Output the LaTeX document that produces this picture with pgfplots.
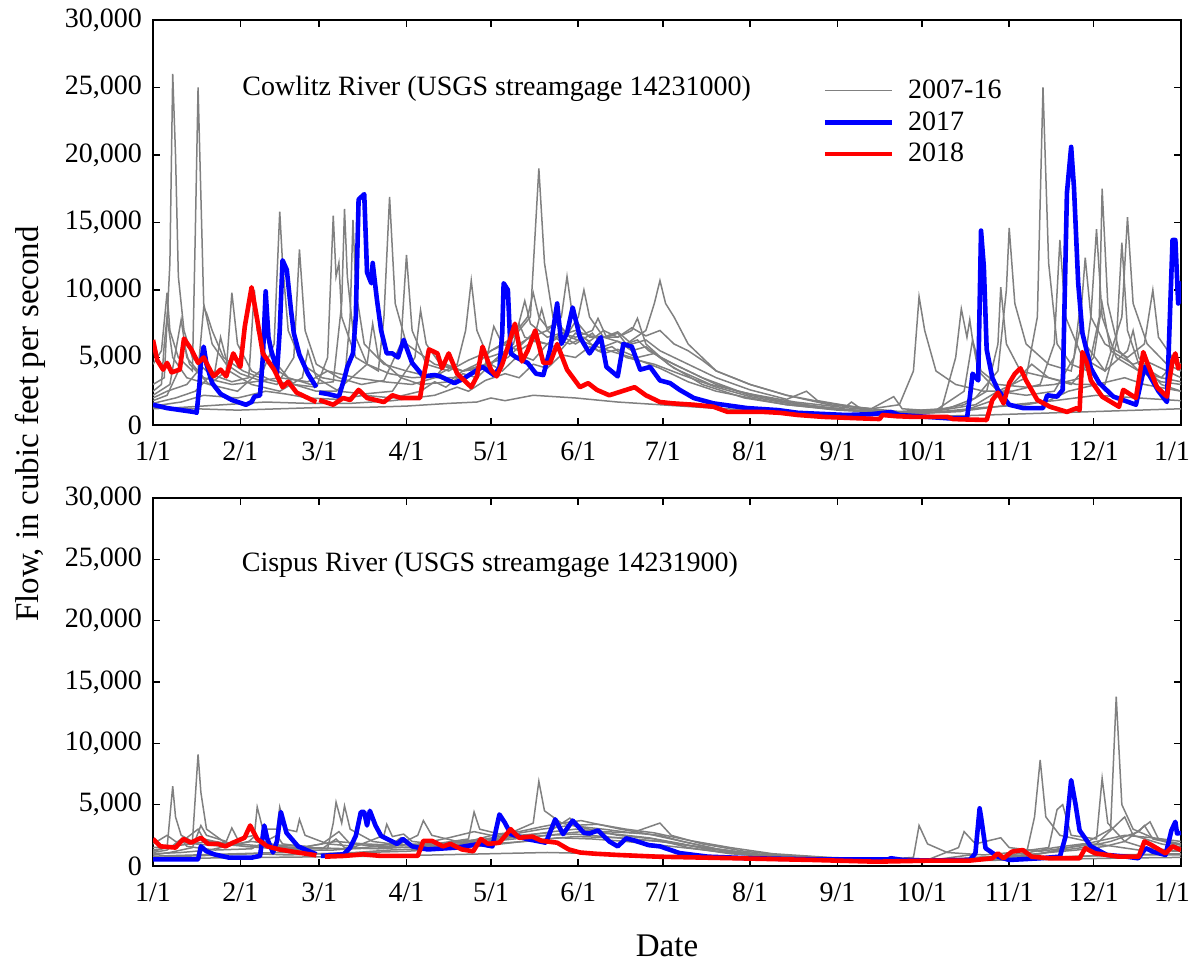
\documentclass[border=0pt]{standalone}
\usepackage{pgfplots}
\pgfplotsset{compat=1.18}
\usepackage{fontspec}
\setmainfont{Liberation Serif}

\definecolor{grayc}{RGB}{128,128,128}

\pgfplotsset{
  panel/.style={
    scale only axis, width=514pt,
    xmin=0, xmax=365, ymin=0, ymax=30000,
    xtick={0,31,59,90,120,151,181,212,243,273,304,334,365},
    xticklabels={1/1,2/1,3/1,4/1,5/1,6/1,7/1,8/1,9/1,10/1,11/1,12/1,{\hspace*{-9pt}1/1}},
    ytick={0,5000,10000,15000,20000,25000,30000},
    scaled y ticks=false,
    /pgf/number format/1000 sep={,},
    /pgf/number format/assume math mode=true,
    tick align=inside, tick pos=both,
    major tick length=3.5pt,
    axis line style={line width=0.8pt},
    every tick/.style={black, line width=0.8pt},
    tick label style={font=\fontsize{14}{16}\selectfont},
    xticklabel style={yshift=-5pt},
    yticklabel style={xshift=-2pt},
    unbounded coords=jump,
  },
  gr/.style={color=grayc, line width=0.75pt, forget plot},
  yb/.style={color=blue, line width=2.3pt, line join=round},
  yr/.style={color=red, line width=2.3pt, line join=round},
}

\begin{document}
\begin{tikzpicture}
\path[use as bounding box] (0pt,0pt) rectangle (595.5pt,481pt);

% ---------------- Cowlitz River ----------------
\begin{axis}[panel, name=top, at={(76.5pt,268.5pt)}, anchor=south west, height=202.5pt,
  legend style={draw=none, fill=none, at={(0.645,0.873)}, anchor=north west,
    font=\fontsize{14}{16}\selectfont, row sep=1pt, cells={anchor=west},
    /tikz/every odd column/.append style={column sep=5pt}},
  legend image code/.code={\draw[#1] (0cm,0cm) -- (1.18cm,0cm);},
]
\addplot[gr] coordinates {(0,4500)(3,5500)(5,9800)(6,7000)(9,5000)(14,4000)(15,14000)(16,25000)(17,17000)(18,9000)(21,6000)(26,4500)(31,3800)(38,3300)(44,3000)(50,5000)(52,13000)(54,7000)(58,4500)(66,3500)(74,3000)(82,3300)(88,6000)(90,12600)(92,7000)(97,4500)(105,4000)(112,4800)(120,5500)(128,6500)(134,8000)(137,19000)(139,12000)(142,8000)(148,6500)(155,6000)(162,5500)(170,5000)(180,4200)(190,3200)(200,2500)(212,2000)(225,1500)(240,1200)(255,1000)(268,950)(280,1100)(292,1500)(300,2500)(310,3500)(314,8000)(316,25000)(318,12000)(321,6000)(326,4500)(332,4000)(336,8000)(337,17500)(339,9000)(343,5500)(350,4000)(358,3200)(365,3000)};
\addplot[gr] coordinates {(0,3000)(4,3500)(6,12000)(7,26000)(8,20000)(9,11000)(11,7000)(14,5000)(20,3800)(28,3200)(34,3500)(36,10000)(37,7000)(41,4500)(48,3500)(56,3000)(64,3200)(67,9000)(68,16000)(69,11000)(71,7000)(76,4500)(84,3800)(92,3500)(100,3600)(108,4500)(111,7000)(113,10700)(115,7000)(119,5000)(126,5500)(134,6500)(140,7000)(145,8000)(147,11000)(149,8000)(155,6500)(165,6500)(170,7000)(172,7900)(175,6000)(183,4500)(195,3000)(210,2000)(225,1500)(243,1100)(260,900)(275,1000)(288,1500)(296,2500)(300,6000)(301,10200)(303,6000)(308,4000)(318,3500)(328,3000)(338,3000)(342,6000)(344,13500)(346,7000)(350,4500)(358,3500)(365,3200)};
\addplot[gr] coordinates {(0,2500)(3,3000)(4,6000)(5,8000)(7,5000)(12,3500)(20,3000)(26,4000)(28,9800)(30,6000)(35,4000)(42,3300)(50,3000)(58,2800)(62,5000)(64,15500)(65,11000)(66,12000)(67,8000)(72,5000)(80,4000)(82,8000)(84,16900)(86,9000)(90,6000)(100,4500)(110,4000)(120,4500)(128,6000)(132,9200)(134,7500)(140,6500)(148,7000)(151,8000)(153,10000)(155,8000)(160,6500)(168,6000)(175,7000)(178,9000)(180,10700)(182,9000)(185,8000)(190,6000)(200,4000)(212,3000)(225,2200)(240,1500)(255,1200)(265,1500)(270,4000)(272,9500)(274,7000)(278,4000)(285,3000)(295,2500)(305,2500)(315,3000)(320,6000)(322,13700)(324,8000)(330,5000)(338,4000)(344,8000)(346,15400)(348,9000)(353,6000)(360,4500)(365,4000)};
\addplot[gr] coordinates {(0,2000)(5,2500)(12,3000)(16,4000)(18,8700)(19,8300)(21,7000)(25,5000)(32,4000)(38,3500)(43,6000)(45,15800)(46,12000)(48,7000)(53,4500)(60,3500)(68,3200)(70,8000)(71,15200)(72,10000)(75,6000)(82,4500)(90,4000)(100,3500)(110,3500)(118,4500)(121,7300)(124,6000)(130,5500)(135,6200)(140,6000)(145,6800)(150,6500)(156,7000)(158,7900)(161,6500)(165,6800)(168,6000)(172,6300)(176,5500)(185,4500)(195,3500)(208,2500)(222,1800)(238,1300)(255,1000)(270,900)(282,1200)(292,2000)(300,4000)(303,10000)(304,14600)(306,9000)(310,6000)(318,4500)(326,4000)(329,7000)(331,12400)(333,8000)(338,6000)(346,5000)(352,6000)(355,10000)(357,6500)(362,5000)(365,4500)};
\addplot[gr] coordinates {(0,1800)(5,2200)(9,4000)(11,6000)(13,4500)(20,3000)(30,2500)(38,4000)(40,7000)(42,5000)(50,3000)(58,2500)(65,2500)(76,4500)(78,7500)(80,5000)(88,3500)(95,3000)(105,3200)(110,4000)(115,4500)(120,5500)(125,6000)(130,7200)(133,8000)(135,9800)(137,8000)(140,7200)(143,7500)(147,6800)(150,7000)(155,6600)(160,6500)(165,6900)(170,6000)(175,6300)(180,5500)(190,4500)(200,3500)(212,2600)(225,1900)(232,2500)(236,1800)(250,1300)(265,1000)(280,1200)(285,5000)(287,8600)(289,6500)(290,7800)(291,6300)(294,4000)(300,3000)(310,2800)(320,3000)(330,3500)(333,8000)(335,14500)(337,8000)(342,5000)(350,4000)(358,3500)(363,4700)(365,4000)};
\addplot[gr] coordinates {(0,1600)(8,2000)(15,2500)(22,4000)(24,6500)(27,4000)(35,3000)(45,2500)(53,3500)(55,5500)(58,3500)(66,2500)(75,2300)(85,2500)(93,5000)(95,8500)(97,6000)(102,4500)(110,4000)(118,4500)(126,5000)(132,6200)(136,7000)(138,8600)(140,7000)(144,6300)(148,6000)(153,6500)(158,5500)(163,5800)(168,5000)(178,4500)(188,3700)(200,2800)(212,2100)(228,1500)(245,1200)(248,1700)(252,1100)(265,900)(278,1100)(288,2500)(291,6300)(293,4000)(300,2500)(310,2200)(320,2500)(327,5000)(329,8500)(331,6000)(338,4000)(346,5500)(348,7000)(350,5000)(358,3000)(365,2500)};
\addplot[gr] coordinates {(0,1400)(10,1700)(18,2200)(30,2000)(40,2500)(47,2300)(55,2000)(65,1900)(75,2200)(85,2000)(95,2500)(100,3200)(104,2800)(110,3800)(115,3500)(120,4500)(124,4000)(130,5200)(135,4800)(140,6000)(145,5600)(150,6800)(155,6200)(160,7000)(165,6500)(170,7200)(175,6600)(180,7000)(185,6000)(190,5500)(195,4800)(200,4000)(212,3000)(225,2200)(240,1600)(255,1200)(263,2100)(266,1200)(280,1000)(295,1300)(310,1500)(318,1800)(325,2500)(335,3000)(345,3500)(352,3000)(365,2500)};
\addplot[gr] coordinates {(0,1200)(10,1300)(25,1500)(40,1700)(55,1600)(70,1600)(85,1800)(100,2200)(108,2800)(112,2500)(118,3300)(125,3800)(130,3500)(135,4500)(140,4200)(145,5200)(150,5000)(155,5800)(160,5300)(165,5600)(172,5000)(178,5300)(185,4200)(198,3000)(212,2300)(228,1700)(245,1300)(260,1000)(275,900)(290,1100)(305,1500)(320,1800)(335,2200)(350,2000)(365,1800)};
\addplot[gr] coordinates {(0,1300)(15,1200)(30,1100)(45,1200)(60,1300)(75,1300)(90,1400)(105,1600)(115,1700)(120,2000)(125,1800)(135,2200)(150,2000)(165,1700)(180,1500)(195,1300)(212,1100)(230,900)(245,800)(260,700)(275,650)(290,700)(305,800)(320,900)(335,1000)(350,1100)(365,1200)};
\addplot[gr] coordinates {(0,2200)(6,3000)(10,7800)(12,5000)(18,3500)(28,3000)(36,3200)(45,3500)(55,3200)(62,4000)(72,3500)(82,3200)(92,3000)(100,3500)(104,4500)(110,4000)(118,4200)(125,5500)(130,7500)(132,6500)(140,6000)(145,6600)(150,6000)(156,6800)(160,5800)(165,6200)(170,5500)(175,5800)(180,5000)(190,4000)(200,3000)(212,2200)(228,1600)(243,1200)(258,950)(272,850)(287,1000)(298,1800)(305,3000)(312,4500)(318,3500)(326,3000)(334,5000)(337,9000)(340,5500)(348,4500)(352,4800)(360,4000)(365,3500)};
\addlegendimage{color=grayc, line width=0.75pt}
% 2017
\addplot[yb] coordinates {(0,1500)(5,1250)(10,1100)(15,950)(15.5,900)(16.5,3000)(17,4600)(18,5800)(19,4500)(21,3100)(24,2300)(28,1850)(33,1500)(35,1700)(36,2100)(38,2200)(39,5000)(40,9900)(41,6500)(42,5500)(43,4800)(44,3800)(45,7000)(46,12200)(47.5,11500)(49,8500)(50,6800)(52,5200)(55,3800)(58,2800)(58.4,nan)(59,2400)(62,2300)(66,2100)(68,3500)(69,4300)(71,5300)(72,8000)(73,16700)(75,17100)(76,11300)(77.5,10500)(78,12000)(79.5,9300)(81,7000)(83,5300)(85,5300)(87,5000)(89,6300)(92,4600)(96,3600)(100,3700)(102,3600)(107,3100)(110,3400)(113,3800)(117,4300)(121,3700)(123,4200)(124,6800)(124.5,10500)(126,10000)(127,5300)(129,5000)(133,4600)(136,3800)(138.6,3700)(141,5600)(143.5,9000)(145,6000)(147,6800)(149,8700)(151.6,6500)(155,5300)(159,6500)(161,4300)(165,3600)(167,6000)(170,5800)(173,4100)(176.5,4300)(180,3300)(183.6,3100)(187,2600)(192,2000)(199,1600)(211,1250)(222,1100)(229,900)(246,740)(255,800)(262,960)(265,740)(275,600)(282,500)(289,500)(290,2000)(291,3800)(293,3300)(294,14400)(295,11700)(296,5600)(298,3500)(300,2600)(304,1500)(309,1250)(316,1250)(317.5,2200)(321,2100)(323,2600)(324.5,17200)(326,20600)(327,17600)(328.5,10500)(330,6800)(333,4200)(336,3100)(341,2100)(345,1800)(349,1500)(352,4300)(354,3600)(357,2500)(360,1700)(362,13700)(363,13700)(364,9000)(364.5,10500)(365,9000)};
% 2018
\addplot[yr] coordinates {(0,6300)(1.5,4800)(3.6,4100)(5,4600)(6.6,3900)(9.5,4100)(11,6400)(13.6,5600)(16,4600)(18,5000)(19.7,4300)(21.5,3600)(24,4100)(26,3600)(28.5,5300)(31,4300)(32.6,7300)(35,10200)(37,7800)(39,5300)(43,4100)(46,2800)(48,3200)(51,2400)(55,2000)(58,1700)(58.4,nan)(59,1850)(64,1500)(67.5,2000)(70,1850)(73,2600)(76,2000)(82,1700)(85,2200)(88,2000)(92,2000)(94.8,2000)(96,3500)(98,5600)(101,5300)(102.6,4200)(105,5300)(108,3800)(113,2800)(115,3600)(117,5800)(120,4100)(122,3600)(124,4500)(126,5800)(128.5,7500)(131,4700)(133,5500)(135.7,7000)(138.6,4600)(141,4600)(143.5,6000)(147,4100)(151.6,2800)(154.5,3100)(157.6,2600)(162,2200)(165,2400)(168,2600)(171,2800)(175,2200)(180,1700)(184.6,1600)(192,1500)(199,1350)(204,970)(216.7,970)(222.6,900)(229,740)(238,600)(250,500)(258,440)(259,740)(264,650)(270,600)(282,600)(284,440)(290,400)(296,370)(298,1850)(300,2400)(302,1600)(304,3100)(306,3800)(308,4200)(310,3300)(314,1850)(318.5,1350)(324.5,970)(328,1250)(329,1100)(330,5400)(331.6,4600)(333,3300)(337,2100)(343,1350)(344.5,2600)(346,2400)(349,2000)(351.6,5400)(353,4600)(356.5,2800)(360,2100)(362,4800)(363,5300)(364,4200)(365,4500)};
\legend{2007-16,2017,2018}
\node[anchor=base west, inner sep=0pt, font=\fontsize{14}{16}\selectfont] at (axis cs:31.6,24440) {Cowlitz River (USGS streamgage 14231000)};
\end{axis}

% ---------------- Cispus River ----------------
\begin{axis}[panel, name=bot, at={(76.5pt,48pt)}, anchor=south west, height=184pt]
\addplot[gr] coordinates {(0,1200)(5,1500)(7,6500)(8,4000)(10,2500)(14,2000)(16,9100)(17,6000)(19,3000)(25,2000)(32,1600)(40,1500)(50,1500)(62,1400)(64,3500)(65,5200)(67,3500)(68,4900)(70,3000)(78,2000)(88,1700)(100,1800)(112,2200)(114,4400)(116,3000)(125,2500)(135,3500)(137,6900)(139,4500)(145,3500)(155,3000)(165,2500)(178,2200)(190,1500)(205,1000)(220,750)(240,600)(260,500)(280,550)(295,700)(310,900)(313,4000)(315,8650)(317,4000)(322,2500)(332,2000)(340,3000)(342,13800)(344,5000)(348,3000)(356,2200)(365,1800)};
\addplot[gr] coordinates {(0,900)(6,1100)(14,1500)(17,3300)(19,2500)(26,2000)(28,3100)(30,2200)(36,2500)(37,4800)(39,3000)(44,3000)(45,4800)(47,3000)(51,2800)(52,3800)(54,2500)(62,1800)(72,1600)(82,2500)(83,3400)(85,2400)(89,2600)(92,2000)(100,1800)(110,1900)(120,2200)(130,2500)(140,2700)(148,3900)(152,3200)(160,3000)(170,2700)(180,3500)(184,2500)(195,1800)(210,1200)(225,850)(242,650)(260,550)(270,700)(272,3300)(275,1800)(282,1100)(295,900)(305,1100)(318,1500)(321,4600)(323,5000)(326,2500)(335,2200)(337,7150)(339,3500)(345,2000)(354,3600)(357,2200)(365,1500)};
\addplot[gr] coordinates {(0,1500)(10,1700)(20,2000)(30,1800)(40,1600)(55,1500)(70,1400)(85,1500)(94,2500)(96,3700)(99,2500)(108,2000)(118,2200)(128,2600)(138,3000)(148,3300)(158,3400)(168,3000)(178,2700)(190,2100)(205,1500)(220,1000)(240,700)(258,550)(275,500)(286,1500)(288,2800)(292,1800)(301,2300)(304,1500)(315,1200)(325,1500)(335,1800)(345,4000)(348,2500)(358,1800)(365,1500)};
\addplot[gr] coordinates {(0,800)(15,900)(30,1000)(45,1100)(60,1000)(75,1100)(90,1200)(105,1400)(120,1700)(135,2100)(150,2400)(165,2300)(180,2000)(195,1500)(210,1000)(230,700)(250,550)(270,450)(290,500)(310,650)(330,800)(350,900)(365,900)};
\addplot[gr] coordinates {(0,600)(20,650)(40,700)(60,750)(80,800)(100,900)(120,1000)(140,1100)(160,1000)(180,850)(200,700)(220,550)(245,450)(270,400)(295,450)(320,550)(345,650)(365,700)};
\addplot[gr] coordinates {(0,1100)(5,1300)(10,2200)(12,1600)(22,1300)(35,1400)(44,2500)(46,1800)(60,1400)(65,2200)(68,1500)(80,1400)(95,1600)(112,2000)(122,2600)(130,2800)(138,3200)(145,3500)(152,3700)(158,3400)(166,3000)(176,2600)(186,2100)(200,1400)(215,900)(235,650)(255,520)(275,480)(295,600)(310,800)(320,1200)(330,1500)(340,2000)(350,2800)(352,3300)(355,2200)(365,1700)};
\addplot[gr] coordinates {(0,1300)(8,1600)(16,3000)(18,2200)(28,1700)(38,1500)(50,1400)(60,1800)(66,2800)(70,1800)(80,1600)(92,1500)(105,1700)(118,2000)(130,2400)(142,2800)(150,3000)(160,2800)(170,2700)(180,2500)(188,2000)(200,1400)(215,950)(232,700)(250,560)(268,480)(285,560)(300,800)(311,1100)(320,1500)(330,1800)(338,1700)(350,1300)(365,1200)};
\addplot[gr] coordinates {(0,1000)(10,1100)(20,1300)(34,2000)(36,2400)(40,1600)(52,1300)(64,1300)(75,1500)(85,1800)(88,2300)(92,1700)(104,1600)(116,1900)(128,2200)(140,2500)(152,2800)(164,2600)(176,2300)(188,1800)(200,1200)(215,800)(235,600)(255,480)(275,430)(290,900)(292,700)(305,800)(318,1100)(328,1300)(338,1600)(345,2000)(352,1500)(365,1200)};
\addplot[gr] coordinates {(0,700)(12,800)(24,900)(36,1000)(48,900)(60,1000)(72,1100)(84,1300)(96,1400)(108,1500)(120,1800)(132,2000)(144,2300)(156,2200)(168,2000)(180,1700)(192,1400)(204,1100)(220,800)(240,600)(260,480)(280,450)(300,550)(320,700)(340,900)(365,1000)};
\addplot[gr] coordinates {(0,1800)(5,2500)(8,2000)(15,1800)(25,1600)(35,2000)(45,1700)(55,1600)(65,2000)(75,1800)(85,1700)(95,1800)(105,2300)(114,2800)(120,2500)(130,2300)(140,2500)(150,2600)(160,2400)(170,2200)(180,2000)(190,1700)(205,1200)(220,850)(240,620)(260,520)(280,500)(300,650)(315,1000)(325,1500)(335,2000)(345,2500)(355,2300)(365,2000)};
% 2017
\addplot[yb] coordinates {(0,540)(16,540)(17,1600)(19,1200)(21.7,950)(27,680)(35,680)(38,820)(39.5,3300)(40.6,2200)(42.6,1100)(44,2000)(45.4,4400)(47.4,2700)(51.5,1600)(58,950)(58.4,nan)(59.6,820)(67.7,950)(70,1500)(72,2450)(73.8,4400)(75,4400)(76,3300)(77,4500)(79,3300)(81,2450)(86.7,1800)(88.7,2200)(92,1600)(97.5,1350)(108,1500)(116,1800)(120.5,1600)(123,4200)(125,3500)(127,2600)(132.7,2200)(139.5,1900)(142.8,3800)(145.6,2600)(149,3700)(153,2700)(155,2650)(158,2900)(162,2000)(165,1600)(168,2250)(170.6,2100)(176,1700)(180,1600)(187,1050)(197,760)(212,630)(234.5,540)(261,540)(262,630)(266,500)(276,440)(290,490)(292,1030)(293.5,4700)(294,4000)(295.6,1450)(300,760)(304,490)(315,630)(322,760)(324,2400)(326,7000)(327.5,5100)(329,2900)(333,1600)(338.7,900)(345.6,760)(349.8,630)(352.5,1450)(355,1170)(359.5,900)(361.6,2900)(363,3600)(363.6,2650)(365,2700)};
% 2018
\addplot[yr] coordinates {(0,2200)(2.7,1600)(8,1500)(10.8,2200)(13.5,1900)(17,2300)(19.6,1800)(23,1800)(25.7,1600)(28.4,1900)(32.5,2300)(34.5,3300)(37,2200)(40.6,1600)(44.7,1350)(51.5,1100)(58,870)(58.4,nan)(61,760)(67.7,820)(74.5,950)(81,820)(94,820)(96,2050)(99,2050)(103,1600)(105.6,1800)(109.7,1350)(113.7,1200)(116.4,2200)(119,1800)(123,1900)(127,3000)(130,2300)(134.7,2400)(138,2050)(143.5,1900)(147.6,1350)(151.6,1100)(157,1000)(165,900)(179,760)(206.7,630)(234.5,490)(256.7,350)(276,440)(290,440)(298,630)(300,1030)(302,630)(305,1170)(308.8,1300)(312,760)(318,630)(329,630)(331,1450)(334.5,1030)(343,760)(350,760)(352,2000)(354.6,1700)(359.5,1030)(362,1600)(365,1300)};
\node[anchor=base west, inner sep=0pt, font=\fontsize{14}{16}\selectfont] at (axis cs:31.4,24040) {Cispus River (USGS streamgage 14231900)};
\end{axis}

\node[anchor=base, rotate=90, inner sep=0pt, font=\fontsize{16.5}{19}\selectfont] at (19.5pt,269pt) {Flow, in cubic feet per second};
\node[anchor=base, inner sep=0pt, font=\fontsize{16.5}{19}\selectfont] at (333.5pt,2.5pt) {Date};
\end{tikzpicture}
\end{document}
